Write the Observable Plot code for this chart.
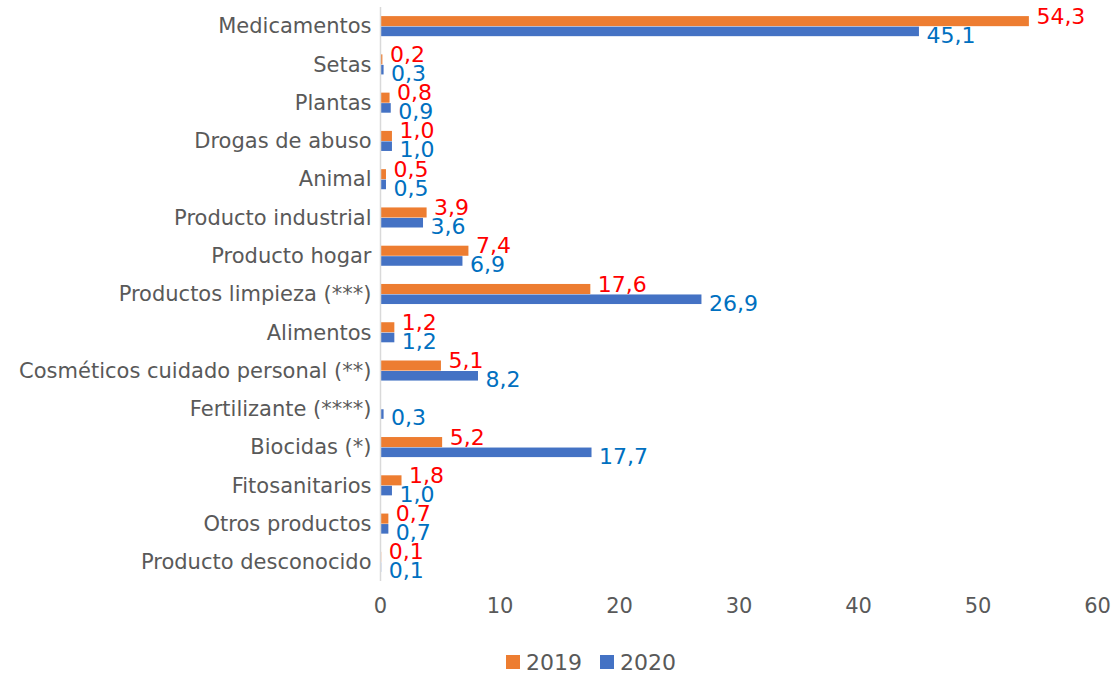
<!DOCTYPE html>
<html>
<head>
<meta charset="utf-8">
<script src="https://cdn.jsdelivr.net/npm/d3@7"></script>
<script src="https://cdn.jsdelivr.net/npm/@observablehq/plot@0.6"></script>
<style>
  body { margin: 0; background: #fff; }
  #chart { width: 1120px; }
  .legend { height: 44px; display: flex; align-items: center; justify-content: center; padding-left: 62px; box-sizing: border-box; width: 1120px;
    font-family: "DejaVu Sans", sans-serif; font-size: 22px; color: #595959; }
  .legend span.sw { display: inline-block; width: 14px; height: 14px; margin-right: 6px; }
  .legend span.item { display: inline-flex; align-items: center; }
  .legend span.item + span.item { margin-left: 18px; }
</style>
</head>
<body>
<div id="chart"></div>
<script>
const categories = ["Medicamentos","Setas","Plantas","Drogas de abuso","Animal","Producto industrial","Producto hogar","Productos limpieza (***)","Alimentos","Cosméticos cuidado personal (**)","Fertilizante (****)","Biocidas (*)","Fitosanitarios","Otros productos","Producto desconocido"];
const v2019 = [54.3,0.2,0.8,1.0,0.5,3.9,7.4,17.6,1.2,5.1,null,5.2,1.8,0.7,0.1];
const v2020 = [45.1,0.3,0.9,1.0,0.5,3.6,6.9,26.9,1.2,8.2,0.3,17.7,1.0,0.7,0.1];
const xTicks = [0,10,20,30,40,50,60];
const series = ["2019","2020"];
const colors = ["#ED7D31","#4472C4"];
const labelColors = ["#FF0000","#0070C0"];

const d19 = categories.map((c,i) => ({cat: c, value: v2019[i]})).filter(d => d.value != null);
const d20 = categories.map((c,i) => ({cat: c, value: v2020[i]})).filter(d => d.value != null);
const fmt = d => d.value.toFixed(1).replace(".", ",");

const plot = Plot.plot({
  width: 1120,
  height: 640,
  marginTop: 7,
  marginBottom: 59,
  marginLeft: 380,
  marginRight: 23,
  style: {fontFamily: "DejaVu Sans, sans-serif", fontSize: "21px", color: "#595959", background: "#fff"},
  x: {domain: [0, 60], ticks: xTicks},
  y: {domain: categories, padding: 0, round: false},
  marks: [
    Plot.barX(d19, {x: "value", y: "cat", fill: colors[0], insetTop: 9.1, insetBottom: 19.1}),
    Plot.barX(d20, {x: "value", y: "cat", fill: colors[1], insetTop: 19.6, insetBottom: 9.1}),
    Plot.ruleX([0], {stroke: "#D9D9D9", strokeWidth: 1.5}),
    Plot.text(d19, {x: "value", y: "cat", text: fmt, fill: labelColors[0], fontSize: 22, textAnchor: "start", dx: 7, dy: -10}),
    Plot.text(d20, {x: "value", y: "cat", text: fmt, fill: labelColors[1], fontSize: 22, textAnchor: "start", dx: 7, dy: 9}),
    Plot.axisY({tickSize: 0, tickPadding: 9, fontSize: 21, label: null}),
    Plot.axisX({ticks: xTicks, tickSize: 0, tickPadding: 17, fontSize: 21, label: null})
  ]
});
document.getElementById("chart").appendChild(plot);

const legend = document.createElement("div");
legend.className = "legend";
series.forEach((s, i) => {
  const item = document.createElement("span");
  item.className = "item";
  const sw = document.createElement("span");
  sw.className = "sw";
  sw.style.background = colors[i];
  item.appendChild(sw);
  item.appendChild(document.createTextNode(s));
  legend.appendChild(item);
});
document.body.appendChild(legend);
</script>
</body>
</html>
